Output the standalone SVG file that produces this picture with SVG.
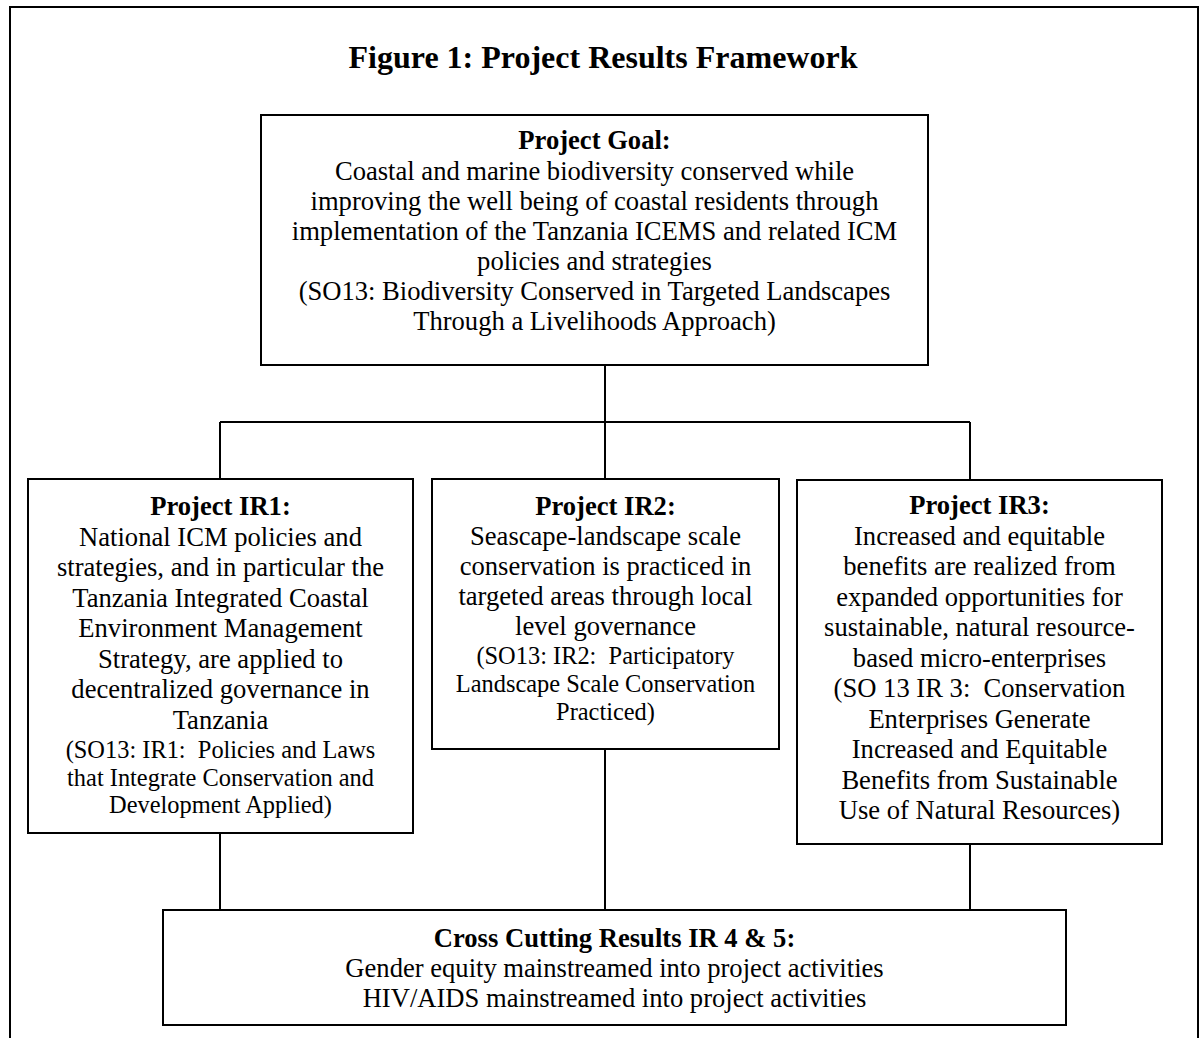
<svg xmlns="http://www.w3.org/2000/svg" width="1200" height="1038" viewBox="0 0 1200 1038">
<style>
  text { font-family: "Liberation Serif", "Times New Roman", serif; fill: #000; text-anchor: middle; }
  .t { font-size: 26.6px; }
  .s { font-size: 24.4px; }
  .b { font-size: 26.6px; font-weight: bold; }
  .title { font-size: 32px; font-weight: bold; }
  .box { fill: #fff; stroke: #000; stroke-width: 2; }
  .conn { stroke: #000; stroke-width: 2; fill: none; }
  .frame { stroke: #000; stroke-width: 2; fill: none; }
</style>
<rect x="0" y="0" width="1200" height="1038" fill="#fff"/>
<path class="frame" d="M10,1040 V7 H1198 V1040"/>
<text class="title" x="603" y="68">Figure 1: Project Results Framework</text>

<g id="connectors">
  <path class="conn" d="M605,365 V422"/>
  <path class="conn" d="M220,422 H970"/>
  <path class="conn" d="M220,422 V479"/>
  <path class="conn" d="M605,422 V479"/>
  <path class="conn" d="M970,422 V480"/>
  <path class="conn" d="M220,833 V910"/>
  <path class="conn" d="M605,749 V910"/>
  <path class="conn" d="M970,844 V910"/>
</g>

<g id="goal">
  <rect class="box" x="261" y="115" width="667" height="250"/>
  <text class="b" x="594.5" y="149">Project Goal:</text>
  <text class="t" x="594.5" y="180">Coastal and marine biodiversity conserved while</text>
  <text class="t" x="594.5" y="210">improving the well being of coastal residents through</text>
  <text class="t" x="594.5" y="240">implementation of the Tanzania ICEMS and related ICM</text>
  <text class="t" x="594.5" y="270">policies and strategies</text>
  <text class="t" x="594.5" y="300">(SO13: Biodiversity Conserved in Targeted Landscapes</text>
  <text class="t" x="594.5" y="330">Through a Livelihoods Approach)</text>
</g>

<g id="ir1">
  <rect class="box" x="28" y="479" width="385" height="354"/>
  <text class="b" x="220.5" y="515">Project IR1:</text>
  <text class="t" x="220.5" y="545.5">National ICM policies and</text>
  <text class="t" x="220.5" y="576">strategies, and in particular the</text>
  <text class="t" x="220.5" y="606.5">Tanzania Integrated Coastal</text>
  <text class="t" x="220.5" y="637">Environment Management</text>
  <text class="t" x="220.5" y="667.5">Strategy, are applied to</text>
  <text class="t" x="220.5" y="698">decentralized governance in</text>
  <text class="t" x="220.5" y="728.5">Tanzania</text>
  <text class="s" x="220.5" y="758" xml:space="preserve">(SO13: IR1:  Policies and Laws</text>
  <text class="s" x="220.5" y="785.5">that Integrate Conservation and</text>
  <text class="s" x="220.5" y="813">Development Applied)</text>
</g>

<g id="ir2">
  <rect class="box" x="432" y="479" width="347" height="270"/>
  <text class="b" x="605.5" y="515">Project IR2:</text>
  <text class="t" x="605.5" y="545">Seascape-landscape scale</text>
  <text class="t" x="605.5" y="575">conservation is practiced in</text>
  <text class="t" x="605.5" y="605">targeted areas through local</text>
  <text class="t" x="605.5" y="635">level governance</text>
  <text class="s" x="605.5" y="664" xml:space="preserve">(SO13: IR2:  Participatory</text>
  <text class="s" x="605.5" y="692">Landscape Scale Conservation</text>
  <text class="s" x="605.5" y="720">Practiced)</text>
</g>

<g id="ir3">
  <rect class="box" x="797" y="480" width="365" height="364"/>
  <text class="b" x="979.5" y="514">Project IR3:</text>
  <text class="t" x="979.5" y="544.5">Increased and equitable</text>
  <text class="t" x="979.5" y="575">benefits are realized from</text>
  <text class="t" x="979.5" y="605.5">expanded opportunities for</text>
  <text class="t" x="979.5" y="636">sustainable, natural resource-</text>
  <text class="t" x="979.5" y="666.5">based micro-enterprises</text>
  <text class="t" x="979.5" y="697" xml:space="preserve">(SO 13 IR 3:  Conservation</text>
  <text class="t" x="979.5" y="727.5">Enterprises Generate</text>
  <text class="t" x="979.5" y="758">Increased and Equitable</text>
  <text class="t" x="979.5" y="788.5">Benefits from Sustainable</text>
  <text class="t" x="979.5" y="819">Use of Natural Resources)</text>
</g>

<g id="crosscutting">
  <rect class="box" x="163" y="910" width="903" height="115"/>
  <text class="b" x="614.5" y="947">Cross Cutting Results IR 4 &amp; 5:</text>
  <text class="t" x="614.5" y="977">Gender equity mainstreamed into project activities</text>
  <text class="t" x="614.5" y="1007">HIV/AIDS mainstreamed into project activities</text>
</g>
</svg>
